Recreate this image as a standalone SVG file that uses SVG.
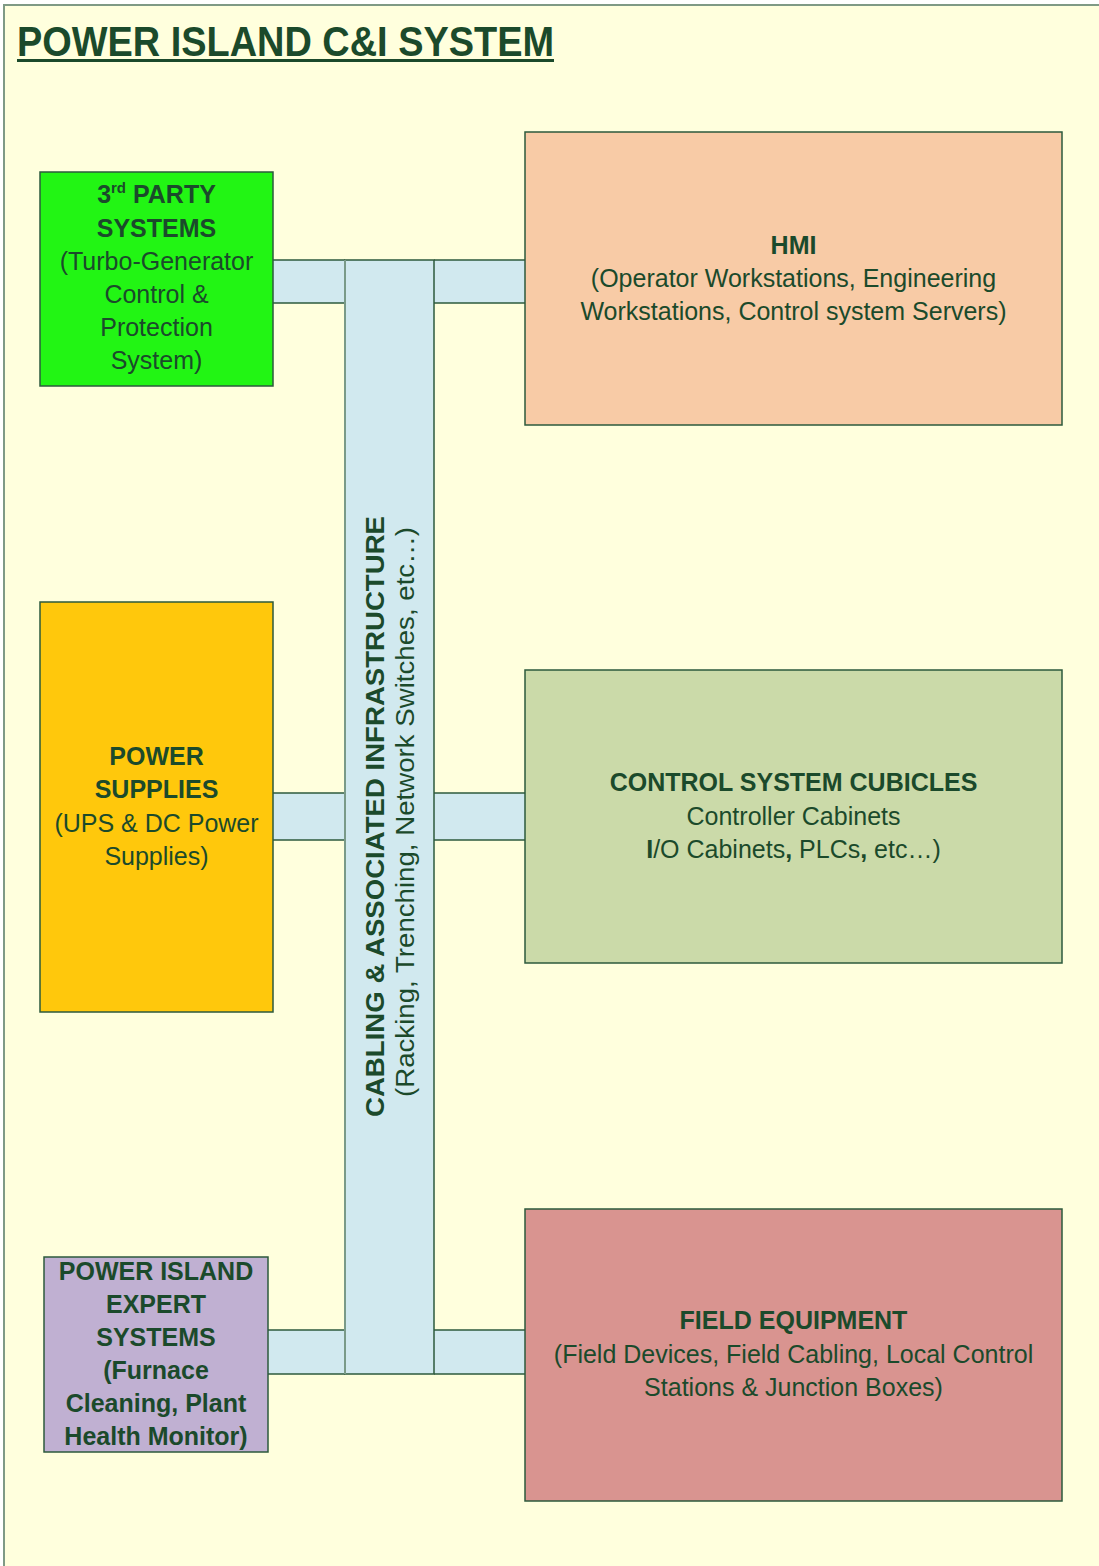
<svg xmlns="http://www.w3.org/2000/svg" width="1099" height="1566" viewBox="0 0 1099 1566">
<style>
.t{font-family:"Liberation Sans",Arial,sans-serif;fill:#1b4a2b;text-anchor:middle;font-size:25px}
.b{font-weight:bold}
.box{stroke:#2d5a3d;stroke-width:1.5}
.ln{stroke:#2d5a3d;stroke-width:1.5}
.cf{fill:#d1e9ef}
</style>
<rect x="0" y="0" width="1099" height="1566" fill="#ffffff"/>
<rect x="4" y="5" width="1200" height="1600" fill="#ffffdd" stroke="#7f9a85" stroke-width="2"/>
<g id="title">
<text x="17" y="56" font-family="Liberation Sans,Arial,sans-serif" font-weight="bold" font-size="42" fill="#1b4a2b" textLength="537" lengthAdjust="spacingAndGlyphs">POWER ISLAND C&amp;I SYSTEM</text>
<rect x="17" y="59" width="537" height="3" fill="#1b4a2b"/>
</g>
<g id="connectors">
<rect class="cf" x="273" y="260" width="72" height="43"/>
<line class="ln" x1="273" y1="260" x2="345" y2="260"/>
<line class="ln" x1="273" y1="303" x2="345" y2="303"/>
<rect class="cf" x="434" y="260" width="91" height="43"/>
<line class="ln" x1="434" y1="260" x2="525" y2="260"/>
<line class="ln" x1="434" y1="303" x2="525" y2="303"/>
<rect class="cf" x="273" y="793" width="72" height="47"/>
<line class="ln" x1="273" y1="793" x2="345" y2="793"/>
<line class="ln" x1="273" y1="840" x2="345" y2="840"/>
<rect class="cf" x="434" y="793" width="91" height="47"/>
<line class="ln" x1="434" y1="793" x2="525" y2="793"/>
<line class="ln" x1="434" y1="840" x2="525" y2="840"/>
<rect class="cf" x="268" y="1330" width="77" height="44"/>
<line class="ln" x1="268" y1="1330" x2="345" y2="1330"/>
<line class="ln" x1="268" y1="1374" x2="345" y2="1374"/>
<rect class="cf" x="434" y="1330" width="91" height="44"/>
<line class="ln" x1="434" y1="1330" x2="525" y2="1330"/>
<line class="ln" x1="434" y1="1374" x2="525" y2="1374"/>
</g>
<g id="cabling">
<rect x="345" y="260" width="89" height="1114" fill="#d1e9ef" stroke="#2d5a3d" stroke-width="1.5"/>
<line x1="345" y1="260" x2="345" y2="1374" stroke="#7a9a88" stroke-width="2"/>
<text class="t b" font-size="27.5" transform="translate(384,816.5) rotate(-90)" textLength="601" lengthAdjust="spacingAndGlyphs">CABLING &amp; ASSOCIATED INFRASTRUCTURE</text>
<text class="t" font-size="27.5" transform="translate(414,812) rotate(-90)" textLength="570" lengthAdjust="spacingAndGlyphs">(Racking, Trenching, Network Switches, etc…)</text>
</g>
<g id="third-party">
<rect class="box" x="40" y="172" width="233" height="214" fill="#22f514"/>
<text class="t b" x="156.5" y="203">3<tspan font-size="15" dy="-10">rd</tspan><tspan dy="10"> PARTY</tspan></text>
<text class="t b" x="156.5" y="237">SYSTEMS</text>
<text class="t" x="156.5" y="270">(Turbo-Generator</text>
<text class="t" x="156.5" y="303">Control &amp;</text>
<text class="t" x="156.5" y="336">Protection</text>
<text class="t" x="156.5" y="369">System)</text>
</g>
<g id="hmi">
<rect class="box" x="525" y="132" width="537" height="293" fill="#f8cba6"/>
<text class="t b" x="793.5" y="254">HMI</text>
<text class="t" x="793.5" y="287">(Operator Workstations, Engineering</text>
<text class="t" x="793.5" y="320">Workstations, Control system Servers)</text>
</g>
<g id="power-supplies">
<rect class="box" x="40" y="602" width="233" height="410" fill="#ffc80c"/>
<text class="t b" x="156.5" y="765">POWER</text>
<text class="t b" x="156.5" y="798">SUPPLIES</text>
<text class="t" x="156.5" y="832">(UPS &amp; DC Power</text>
<text class="t" x="156.5" y="865">Supplies)</text>
</g>
<g id="control-cubicles">
<rect class="box" x="525" y="670" width="537" height="293" fill="#cbdaa9"/>
<text class="t b" x="793.5" y="791">CONTROL SYSTEM CUBICLES</text>
<text class="t" x="793.5" y="825">Controller Cabinets</text>
<text class="t" x="793.5" y="858"><tspan font-weight="bold">I</tspan>/O Cabinets<tspan font-weight="bold">,</tspan> PLCs<tspan font-weight="bold">,</tspan> etc…)</text>
</g>
<g id="expert-systems">
<rect class="box" x="44" y="1257" width="224" height="195" fill="#c0b0d2"/>
<text class="t b" x="156" y="1280">POWER ISLAND</text>
<text class="t b" x="156" y="1313">EXPERT</text>
<text class="t b" x="156" y="1346">SYSTEMS</text>
<text class="t b" x="156" y="1379">(Furnace</text>
<text class="t b" x="156" y="1412">Cleaning, Plant</text>
<text class="t b" x="156" y="1445">Health Monitor)</text>
</g>
<g id="field-equipment">
<rect class="box" x="525" y="1209" width="537" height="292" fill="#d99490"/>
<text class="t b" x="793.5" y="1329">FIELD EQUIPMENT</text>
<text class="t" x="793.5" y="1363">(Field Devices, Field Cabling, Local Control</text>
<text class="t" x="793.5" y="1396">Stations &amp; Junction Boxes)</text>
</g>
</svg>
